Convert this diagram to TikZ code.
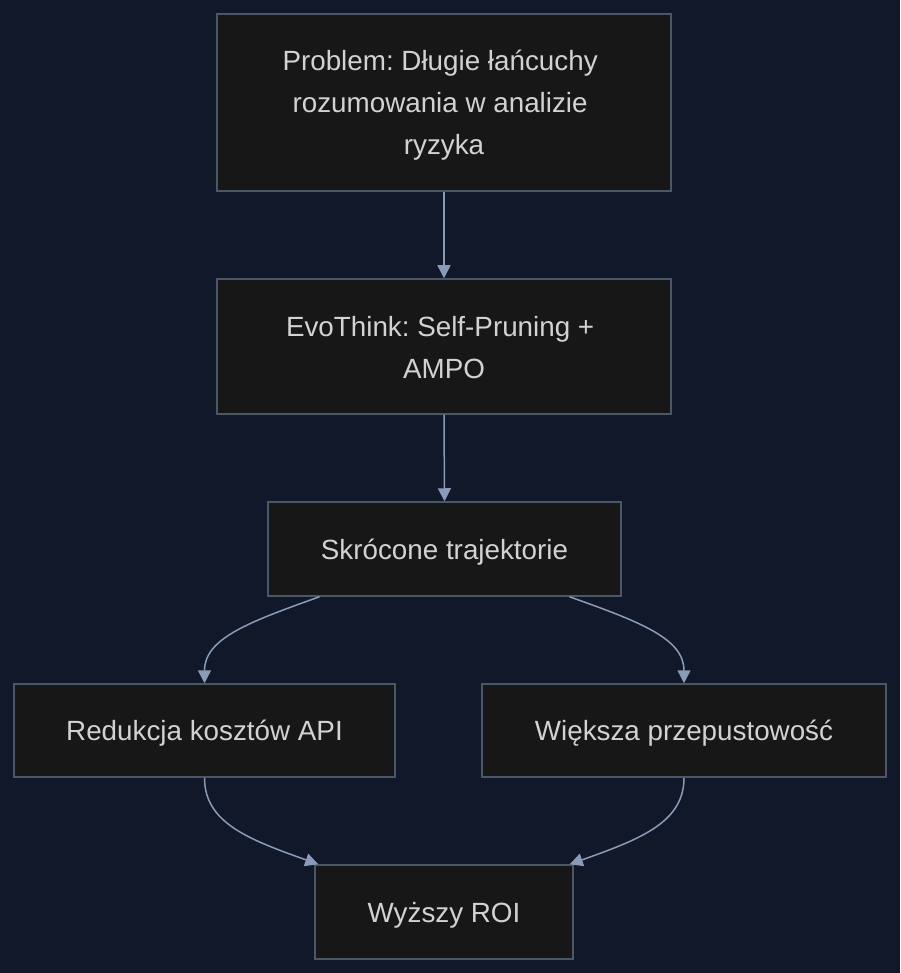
\documentclass[tikz,border=0pt]{standalone}
\usepackage{fontspec}
\setmainfont{Liberation Sans}
\usetikzlibrary{arrows.meta,calc}
\definecolor{bgc}{RGB}{16,24,42}
\definecolor{boxfill}{RGB}{23,23,23}
\definecolor{boxline}{RGB}{75,86,102}
\definecolor{txt}{RGB}{210,210,210}
\definecolor{arr}{RGB}{138,155,184}
\newcommand{\tsp}{\kern0.278em}
\begin{document}
\frenchspacing
\begin{tikzpicture}[x=1pt,y=-1pt,
  box/.style={draw=boxline,fill=boxfill,line width=1.5pt,inner sep=0pt},
  lbl/.style={text=txt,align=center,font=\fontsize{27.8}{42}\selectfont,inner sep=0pt},
  conn/.style={draw=arr,line width=1.5pt,-{Triangle[length=13pt,width=13pt]}}]
\fill[bgc] (0,0) rectangle (900,973);
\useasboundingbox (0,0) rectangle (900,973);
\node[box,minimum width=454pt,minimum height=177pt] (b1) at (444,102.5) {};
\node[box,minimum width=454pt,minimum height=135pt] (b2) at (444,346.5) {};
\node[box,minimum width=353pt,minimum height=94pt] (b3) at (444.5,549) {};
\node[box,minimum width=381pt,minimum height=93pt] (b4) at (204.5,730.5) {};
\node[box,minimum width=404pt,minimum height=93pt] (b5) at (684,730.5) {};
\node[box,minimum width=258pt,minimum height=94pt] (b6) at (444,912) {};
\node[lbl] (t1) at ([yshift=-3pt]b1.center) {Problem: Długie łańcuchy\tsp\\rozumowania w analizie\tsp\\ryzyka};
\node[lbl] (t2) at ([yshift=-1pt]b2.center) {EvoThink: Self-Pruning +\tsp\\AMPO};
\node[lbl] (t3) at ([yshift=-3pt]b3.center) {Skrócone trajektorie};
\node[lbl] (t4) at ([yshift=-3pt]b4.center) {Redukcja kosztów API};
\node[lbl] (t5) at ([yshift=-3pt]b5.center) {Większa przepustowość};
\node[lbl] (t6) at ([yshift=-3pt]b6.center) {Wyższy ROI};
\draw[conn] (b1.south) -- (b2.north);
\draw[conn] (b2.south) -- (b3.north);
\draw[conn] ([xshift=-125pt]b3.south) .. controls ++(-70,25) and ++(0,-45) .. (b4.north);
\draw[conn] ([xshift=125pt]b3.south) .. controls ++(70,25) and ++(0,-45) .. (b5.north);
\draw[conn] (b4.south) .. controls ++(0,45) and ++(-70,-25) .. ([xshift=4pt]b6.north west);
\draw[conn] (b5.south) .. controls ++(0,45) and ++(70,-25) .. ([xshift=-4pt]b6.north east);
\end{tikzpicture}
\end{document}
